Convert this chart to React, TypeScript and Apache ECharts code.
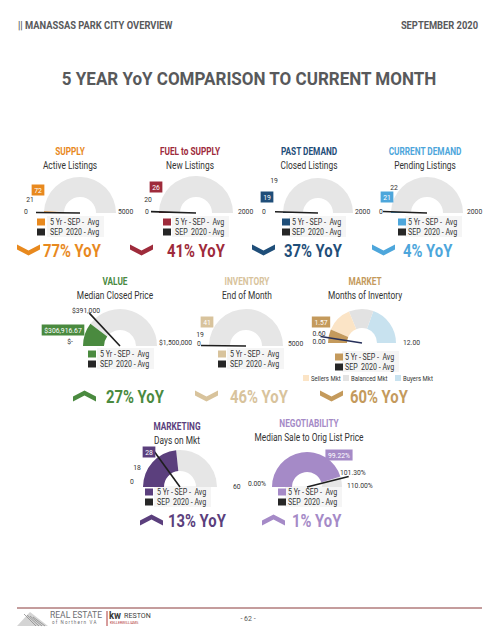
import React, { useEffect, useRef } from 'react';
import * as echarts from 'echarts';

// ---------- data ----------
const metricTitles = ['SUPPLY', 'FUEL to SUPPLY', 'PAST DEMAND', 'CURRENT DEMAND', 'VALUE', 'INVENTORY', 'MARKET', 'MARKETING', 'NEGOTIABILITY'];
const metricSubtitles = ['Active Listings', 'New Listings', 'Closed Listings', 'Pending Listings', 'Median Closed Price', 'End of Month', 'Months of Inventory', 'Days on Mkt', 'Median Sale to Orig List Price'];
const avg5yr = [72, 26, 19, 21, 306916.67, 41, 1.57, 28, 99.22];
const current2020 = [21, 20, 19, 22, 391000, 19, 0.6, 18, 101.3];
const gaugeMax = [5000, 2000, 2000, 2000, 1500000, 5000, 12, 60, 110];
const minLabels = ['0', '0', '0', '0', '$-', '0', '0.00', '0', '0.00%'];
const maxLabels = ['5000', '2000', '2000', '2000', '$1,500,000', '5000', '12.00', '60', '110.00%'];
const avgLabels = ['72', '26', '19', '21', '$306,916.67', '41', '1.57', '28', '99.22%'];
const curLabels = ['21', '20', '19', '22', '$391,000', '19', '0.60', '18', '101.30%'];
const yoyPct = [77, 41, 37, 4, 27, 46, 60, 13, 1];
const yoyUp = [false, false, false, false, true, false, false, true, true];
const legendLabels = ['5 Yr - SEP -  Avg', 'SEP  2020 - Avg'];
const marketBandNames = ['Sellers Mkt', 'Balanced Mkt', 'Buyers Mkt'];
const marketBandEnds = [4.5, 7.3, 12];

// ---------- styles ----------
const metricColors = ['#e8891e', '#9e2b3b', '#1f4e79', '#4da6db', '#4a8a3f', '#d8c39c', '#c49a5c', '#5b3f7d', '#a58ac7'];
const marketBandColors = ['#fbe4c6', '#e2e2e2', '#c8e2ef'];
const GRAY = '#e6e6e6';
const FONT = 'Roboto, "Noto Sans", sans-serif';

// layout per gauge: center, radius, title pos, label positions, legend and YoY positions
const layout = [
  { cx: 80, cy: 213, r: 36, tx: 70, ty: 151, min: [26, 211], max: [118, 211], cur: [30, 199], avg: [38, 190], lgSq: 37, lgTx: 50, lgY: 222, chX: 17, yoyX: 43, yoyY: 250 },
  { cx: 196, cy: 213, r: 37, tx: 190, ty: 151, min: [147, 211], max: [238, 211], cur: [148, 199], avg: [156, 187], lgSq: 163, lgTx: 175, lgY: 222, chX: 130, yoyX: 167, yoyY: 250 },
  { cx: 318, cy: 213, r: 35, tx: 309, ty: 151, min: [264, 211], max: [355, 211], cur: [274, 180], avg: [267, 197], lgSq: 282, lgTx: 292, lgY: 222, chX: 252, yoyX: 284, yoyY: 250 },
  { cx: 427, cy: 213, r: 36, tx: 425, ty: 151, min: [381, 211], max: [467, 211], cur: [394, 187], avg: [387, 197], lgSq: 398, lgTx: 408, lgY: 222, chX: 372, yoyX: 403, yoyY: 250 },
  { cx: 120, cy: 346, r: 37, tx: 115, ty: 281, min: [70, 341], max: [159, 342], cur: [86, 310], avg: [63, 330], lgSq: 88, lgTx: 100, lgY: 354, chX: 73, yoyX: 106, yoyY: 396 },
  { cx: 246, cy: 346, r: 37, tx: 247, ty: 281, min: [199, 343], max: [288, 343], cur: [200, 334], avg: [207, 322], lgSq: 218, lgTx: 230, lgY: 354, chX: 195, yoyX: 230, yoyY: 396 },
  { cx: 362, cy: 343, r: 34, tx: 365, ty: 281, min: [319, 341], max: [403, 342], cur: [319, 333], avg: [321, 322], lgSq: 335, lgTx: 345, lgY: 357, chX: 320, yoyX: 350, yoyY: 396 },
  { cx: 180, cy: 487, r: 37, tx: 177, ty: 426, min: [132, 481], max: [233, 486], cur: [137, 467], avg: [149, 452], lgSq: 145, lgTx: 157, lgY: 492, chX: 140, yoyX: 168, yoyY: 520 },
  { cx: 307, cy: 487, r: 35, tx: 309, ty: 423, min: [257, 483], max: [347, 485], cur: [340, 472], avg: [339, 455], lgSq: 278, lgTx: 288, lgY: 492, chX: 262, yoyX: 292, yoyY: 520 },
];

function txt(text: string, x: number, y: number, o: any = {}) {
  const align = o.align || 'center';
  return {
    type: 'text',
    x,
    y,
    scaleX: o.sx ?? 1,
    silent: true,
    z: o.z ?? 10,
    style: {
      text,
      fill: o.color || '#333',
      fontSize: o.size || 9,
      fontWeight: o.weight || 'normal',
      fontFamily: FONT,
      align,
      textAlign: align,
      verticalAlign: 'middle',
      textVerticalAlign: 'middle',
      backgroundColor: o.bg,
      padding: o.pad,
    },
  };
}

function chevron(x: number, y: number, up: boolean, color: string, w = 23, h = 11, t = 5) {
  const pts = up
    ? [[0, h], [w / 2, t], [w, h], [w, h - t], [w / 2, 0], [0, h - t]]
    : [[0, 0], [w / 2, h - t], [w, 0], [w, t], [w / 2, h], [0, t]];
  return { type: 'polygon', x, y, silent: true, shape: { points: pts }, style: { fill: color } };
}

function buildOption() {
  const graphics: any[] = [];
  // header
  graphics.push(txt('|| MANASSAS PARK CITY OVERVIEW', 18, 25, { size: 11, weight: 'bold', color: '#58595b', align: 'left', sx: 0.85 }));
  graphics.push(txt('SEPTEMBER 2020', 478, 25, { size: 11, weight: 'bold', color: '#58595b', align: 'right', sx: 0.85 }));
  graphics.push(txt('5 YEAR YoY COMPARISON TO CURRENT MONTH', 249, 79, { size: 18, weight: 'bold', color: '#58595b', sx: 0.945 }));

  const series: any[] = [];
  metricTitles.forEach((title, i) => {
    const L = layout[i];
    const col = metricColors[i];
    // titles
    graphics.push(txt(title, L.tx, L.ty, { size: 11, weight: 'bold', color: col, sx: 0.75 }));
    graphics.push(txt(metricSubtitles[i], L.tx, L.ty + 14.5, { size: 11, color: '#333', sx: 0.76 }));
    // gauge axis labels
    graphics.push(txt(minLabels[i], L.min[0], L.min[1], { size: 8, sx: 0.85 }));
    graphics.push(txt(maxLabels[i], L.max[0], L.max[1], { size: 8, sx: 0.85, align: 'left' }));
    graphics.push(txt(curLabels[i], L.cur[0], L.cur[1], { size: 8, sx: 0.85, align: i === 8 ? 'left' : 'center' }));
    graphics.push(txt(avgLabels[i], L.avg[0], L.avg[1], { size: 8, sx: 0.85, color: '#fff', bg: col, pad: [2, 3, 1, 3] }));
    // legend
    graphics.push({ type: 'rect', silent: true, shape: { x: L.lgTx - 3, y: L.lgY - 6, width: 57, height: 21 }, style: { fill: '#f5f5f5' } });
    graphics.push({ type: 'rect', silent: true, shape: { x: L.lgSq, y: L.lgY - 3.5, width: 8, height: 7 }, style: { fill: col } });
    graphics.push({ type: 'rect', silent: true, shape: { x: L.lgSq, y: L.lgY + 6.5, width: 8, height: 7 }, style: { fill: '#262626' } });
    graphics.push(txt(legendLabels[0], L.lgTx, L.lgY, { size: 8.5, sx: 0.83, align: 'left' }));
    graphics.push(txt(legendLabels[1], L.lgTx, L.lgY + 10, { size: 8.5, sx: 0.83, align: 'left' }));
    // YoY
    graphics.push(chevron(L.chX, L.yoyY - 5.5, yoyUp[i], col));
    graphics.push(txt(`${yoyPct[i]}% YoY`, L.yoyX, L.yoyY, { size: 19, weight: 'bold', color: col, sx: 0.78, align: 'left' }));

    // gauge colour stops from data
    let stops: any[];
    if (i === 6) {
      stops = [[avg5yr[i] / gaugeMax[i], col]];
      marketBandEnds.forEach((e, k) => stops.push([e / gaugeMax[i], marketBandColors[k]]));
    } else {
      stops = [[avg5yr[i] / gaugeMax[i], col], [1, GRAY]];
    }
    series.push({
      type: 'gauge',
      center: [L.cx, L.cy],
      radius: L.r,
      startAngle: 180,
      endAngle: 0,
      min: 0,
      max: gaugeMax[i],
      axisLine: { lineStyle: { width: Math.round(L.r * 0.56), color: stops } },
      axisTick: { show: false },
      splitLine: { show: false },
      axisLabel: { show: false },
      progress: { show: false },
      anchor: { show: false },
      title: { show: false },
      detail: { show: false },
      pointer: {
        show: true,
        icon: 'rect',
        length: L.r + 8,
        width: 1.6,
        offsetCenter: [0, 0],
        itemStyle: { color: i === 6 ? '#26305a' : '#1e1e1e' },
      },
      data: [{ value: current2020[i] }],
      z: 2,
    });
  });

  // market band legend
  const bandX = [303, 343, 395];
  marketBandNames.forEach((n, k) => {
    graphics.push({ type: 'rect', silent: true, shape: { x: bandX[k], y: 375, width: 6, height: 6 }, style: { fill: marketBandColors[k] } });
    graphics.push(txt(n, bandX[k] + 8, 378.5, { size: 7.5, sx: 0.8, align: 'left' }));
  });

  // footer
  graphics.push({ type: 'line', silent: true, shape: { x1: 17, y1: 608, x2: 482, y2: 608 }, style: { stroke: '#8a3b3b', lineWidth: 1 } });
  graphics.push({ type: 'polygon', silent: true, shape: { points: [[17, 626], [30, 612], [48, 626]] }, style: { fill: '#d4d4d4' } });
  [0, 1, 2, 3].forEach((k) => {
    graphics.push({ type: 'line', silent: true, shape: { x1: 24 + k * 3, y1: 614 + k, x2: 36 + k * 3, y2: 626 }, style: { stroke: '#8c8c8c', lineWidth: 0.8 } });
  });
  graphics.push(txt('REAL ESTATE', 50, 615, { size: 9, color: '#6d6e71', align: 'left', sx: 0.95 }));
  graphics.push(txt('o f   N o r t h e r n   V A', 52, 622.5, { size: 4.5, color: '#6d6e71', align: 'left' }));
  graphics.push({ type: 'line', silent: true, shape: { x1: 107, y1: 611, x2: 107, y2: 626 }, style: { stroke: '#b03a3a', lineWidth: 1 } });
  graphics.push(txt('kw', 109, 615, { size: 10, weight: 'bold', color: '#3a3a3a', align: 'left', sx: 0.95 }));
  graphics.push(txt('RESTON', 124, 615.5, { size: 7.5, color: '#3a3a3a', align: 'left', sx: 0.95 }));
  graphics.push(txt('KELLERWILLIAMS', 110, 622.5, { size: 3.5, color: '#b03a3a', align: 'left' }));
  graphics.push(txt('- 62 -', 248, 618.5, { size: 7, color: '#555' }));

  return {
    animation: false,
    backgroundColor: '#ffffff',
    series,
    graphic: { elements: graphics },
  };
}

export default function App() {
  const ref = useRef<HTMLDivElement>(null);
  useEffect(() => {
    if (!ref.current) return;
    const chart = echarts.init(ref.current, null, { renderer: 'svg', width: 495, height: 640 });
    chart.setOption(buildOption() as any);
    return () => chart.dispose();
  }, []);
  return <div ref={ref} style={{ position: 'fixed', left: 0, top: 0, width: 495, height: 640, background: '#fff' }} />;
}
